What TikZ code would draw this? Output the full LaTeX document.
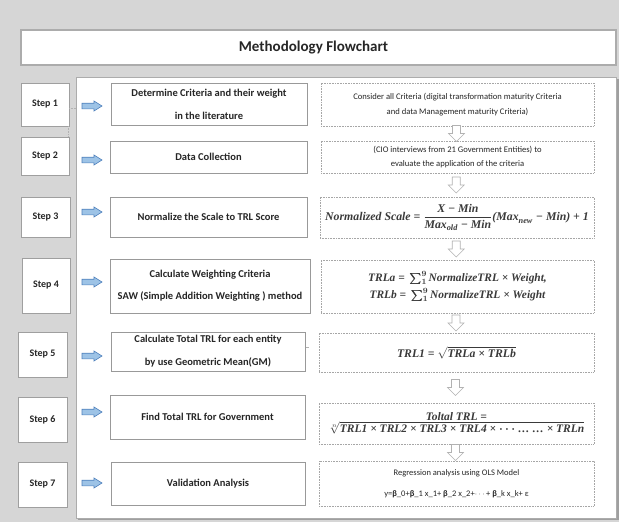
\documentclass[tikz,border=0pt]{standalone}
\usepackage{fontspec}
\usepackage{amsmath}
\usepackage{bm}
\setmainfont{Carlito}
\newfontfamily\fmf{Liberation Serif}
\newcommand{\fv}[1]{\text{\fmf\bfseries\itshape #1}}
\usetikzlibrary{calc}
\definecolor{bg}{HTML}{D6D6D6}
\definecolor{arrfill}{HTML}{9DC3E6}
\definecolor{arrdraw}{HTML}{4F81BD}
\definecolor{txt}{HTML}{262626}
\definecolor{frm}{HTML}{3A3A3A}
\tikzset{
  panelbox/.style={draw=gray!65, line width=0.8pt, fill=white, inner sep=0, outer sep=0, anchor=north west},
  titlebox/.style={draw=gray!65, line width=1.2pt, fill=white, inner sep=0, outer sep=0, anchor=north west,
    font=\bfseries\fontsize{15}{17}\selectfont, text=txt},
  stepbox/.style={draw=gray!75, line width=1pt, fill=white, inner sep=0, outer sep=0, anchor=north west,
    font=\bfseries\fontsize{10}{12}\selectfont, text=txt},
  midbox/.style={draw=gray!80, line width=0.9pt, fill=white, inner sep=0, outer sep=0, anchor=north west,
    align=center, font=\bfseries\fontsize{10.5}{23}\selectfont, text=txt},
  rbox/.style={draw=gray!70, densely dotted, line width=0.6pt, fill=white, inner sep=0, outer sep=0, anchor=north west,
    align=center, font=\fontsize{8.6}{15}\selectfont, text=txt},
  frmtext/.style={text=frm},
  barrow/.style={draw=arrdraw, fill=arrfill, line width=0.6pt, line join=miter},
  hollow/.style={draw=gray!60, fill=white, line width=0.6pt, line join=miter},
  darrow/.pic={\draw[hollow] (-4,-8) -- (4,-8) -- (4,0) -- (8,0) -- (0,8) -- (-8,0) -- (-4,0) -- cycle;},
  rarrow/.pic={\draw[barrow] (0,-2.8) -- (12,-2.8) -- (12,-5) -- (20,0) -- (12,5) -- (12,2.8) -- (0,2.8) -- cycle;},
}
\newcommand{\bx}[7]{\node[#2, minimum width={(#5-#3)*1pt}, minimum height={(#6-#4)*1pt}] (#1) at (#3,#4) {#7};}
\begin{document}
\begin{tikzpicture}[x=1pt,y=-1pt]
\fill[bg] (0,0) rectangle (619,522);
\useasboundingbox (0,0) rectangle (619,522);

% title
\bx{title}{titlebox}{21}{30}{616}{65}{\hspace*{-10pt}Methodology Flowchart}

% panel with shadow
\fill[gray!75] (78,79) rectangle (618.5,520);
\bx{panel}{panelbox}{76}{77}{616}{518}{}

% step boxes
\bx{s1}{stepbox}{21}{83}{69}{126}{Step 1}
\bx{s2}{stepbox}{21}{137}{69}{175}{Step 2}
\bx{s3}{stepbox}{21}{197}{70}{237}{Step 3}
\bx{s4}{stepbox}{22}{258}{70}{313}{Step 4}
\bx{s5}{stepbox}{18}{332}{67}{377}{Step 5}
\bx{s6}{stepbox}{18}{397}{67}{442}{Step 6}
\bx{s7}{stepbox}{18}{462}{67}{507}{Step 7}

% faint dotted links near step 1
\draw[gray!60, densely dotted, line width=0.6pt] (s1.east |- 0,108) -- (panel.west |- 0,108);
\draw[gray!60, densely dotted, line width=0.6pt] ($(s1.south east)+(-1,0)$) -- ($(s2.north east)+(-1,0)$);

% middle boxes
\bx{m1}{midbox}{111}{83}{307}{125}{Determine Criteria and their weight\\in the literature}
\bx{m2}{midbox}{110}{141}{307}{173}{Data Collection}
\bx{m3}{midbox}{110}{197}{307}{237}{Normalize the Scale to TRL Score}
\bx{m4}{midbox, font=\bfseries\fontsize{10.5}{22}\selectfont}{110}{259}{310}{313}{Calculate Weighting Criteria\\SAW (Simple Addition Weighting ) method}
\bx{m5}{midbox}{111}{332}{305}{371}{Calculate Total TRL for each entity\\by use Geometric Mean(GM)}
\bx{m6}{midbox}{110}{395}{305}{439}{Find Total TRL for Government}
\bx{m7}{midbox}{111}{462}{305}{505}{Validation Analysis}
\draw[gray!60, line width=0.5pt] ($(m5.east)+(1,-4)$) -- ++(3,0);

% blue arrows
\pic at (82,106) {rarrow};
\pic at (82,160) {rarrow};
\pic at (82,212) {rarrow};
\pic at (82,282) {rarrow};
\pic at (82,356) {rarrow};
\pic at (82,412) {rarrow};
\pic at (82,483) {rarrow};

% right boxes
\bx{r1}{rbox}{321}{83}{594}{126}{Consider all Criteria (digital transformation maturity Criteria\\and data Management maturity Criteria)}
\bx{r2}{rbox, font=\fontsize{8.6}{14}\selectfont}{321}{141}{594}{173}{(CIO interviews from 21 Government Entities) to\\evaluate the application of the criteria}
\bx{r3}{rbox, frmtext, font=\fontsize{11.8}{13}\selectfont}{320}{197}{594}{238}{$\fv{Normalized Scale = }\dfrac{\fv{X − Min}}{\fv{Max}_{\fv{old}}\fv{ − Min}}\fv{(Max}_{\fv{new}}\fv{ − Min) + 1}$}
\bx{r4}{rbox, frmtext, font=\fontsize{11.4}{17}\selectfont}{321}{260}{594}{313}{$\fv{TRLa = }\bm{\textstyle\sum_{1}^{9}}\fv{NormalizeTRL × Weight,}$\\$\fv{TRLb = }\bm{\textstyle\sum_{1}^{9}}\fv{NormalizeTRL × Weight}$}
\bx{r5}{rbox, frmtext, font=\fontsize{11.7}{13}\selectfont}{319}{333}{594}{372}{$\fv{TRL1 = }\sqrt{\fv{TRLa × TRLb}}$}
\bx{r6}{rbox, frmtext, font=\fontsize{11.5}{13}\selectfont}{319}{403}{594}{444}{\fmf\bfseries\itshape Toltal TRL =\\[-1pt]$\sqrt[n]{\fv{TRL1 × TRL2 × TRL3 × TRL4 × }\bm{\cdots}\fv{ … … × TRLn}}$}
\bx{r7}{rbox, font=\fontsize{8.5}{21}\selectfont}{319}{461}{594}{506}{Regression analysis using OLS Model\\y=\textbf{β}\_0+\textbf{β}\_1 x\_1+ \textbf{β}\_2 x\_2+$\cdots$+ \textbf{β}\_k x\_k+ ε}

% hollow down arrows
\pic at ($(r1.south)!0.5!(r2.north)+(-1,0)$) {darrow};
\pic at ($(r2.south)!0.5!(r3.north)+(-1,0)$) {darrow};
\pic at ($(r3.south)!0.5!(r4.north)+(-1,0)$) {darrow};
\pic at ($(r4.south)!0.5!(r5.north)+(-1,0)$) {darrow};
\pic at ($(r5.south)!0.5!(r6.north)+(-1,0)$) {darrow};
\pic at ($(r6.south)!0.5!(r7.north)+(-1,0)$) {darrow};
\end{tikzpicture}
\end{document}
